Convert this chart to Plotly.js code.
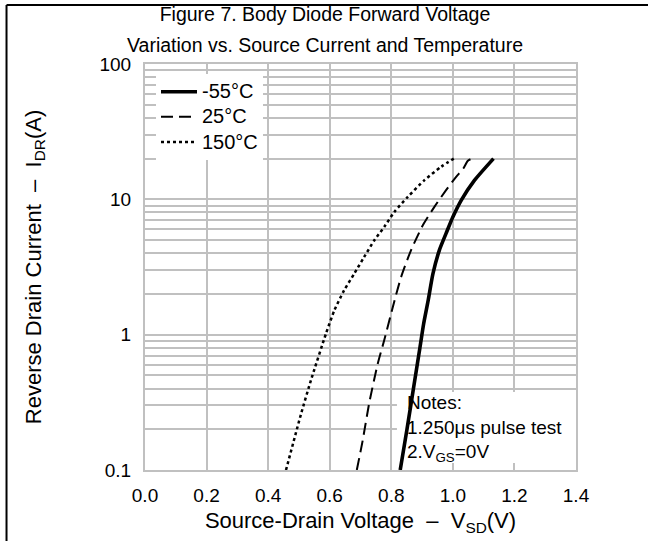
<!DOCTYPE html>
<html><head><meta charset="utf-8">
<script src="https://cdn.plot.ly/plotly-3.0.1.min.js"></script>
<style>html,body{margin:0;padding:0;background:#fff;} #chart{width:648px;height:541px;}</style>
</head><body><div id="chart"></div>
<script>
// ---- data ----
const seriesNames = ['-55°C', '25°C', '150°C'];
const vMinus55 = [0.829, 0.851, 0.872, 0.893, 0.905, 0.920, 0.935, 0.956, 0.978, 1.000, 1.028, 1.070, 1.132];
const iMinus55 = [0.1, 0.2, 0.4, 0.8, 1.2, 1.8, 2.8, 4.2, 5.6, 7.4, 9.9, 13.8, 20];
const v25 = [0.688, 0.707, 0.728, 0.756, 0.777, 0.805, 0.832, 0.864, 0.902, 0.940, 0.978, 1.010, 1.034, 1.048, 1.060, 1.076];
const i25 = [0.1, 0.165, 0.31, 0.61, 0.91, 1.6, 2.67, 4.2, 6.4, 8.8, 11.7, 14.6, 16.9, 19.2, 19.9, 20];
const v150 = [0.458, 0.507, 0.539, 0.588, 0.615, 0.647, 0.680, 0.712, 0.745, 0.777, 0.810, 0.853, 0.907, 0.962, 1.003];
const i150 = [0.1, 0.26, 0.46, 1.02, 1.51, 2.13, 2.83, 3.75, 4.98, 6.25, 8.07, 10.4, 13.8, 17.4, 20];
const xTickVals = [0, 0.2, 0.4, 0.6, 0.8, 1.0, 1.2, 1.4];
const titleLine1 = 'Figure 7. Body Diode Forward Voltage';
const titleLine2 = 'Variation vs. Source Current and Temperature';
const xTitle = 'Source-Drain Voltage \u00a0\u2013\u00a0 V<sub>SD</sub>(V)';
const yTitle = 'Reverse Drain Current \u00a0\u2013\u00a0 I<sub>DR</sub>(A)';
const notesText = 'Notes:<br>1.250\u03bcs pulse test<br>2.V<sub>GS</sub>=0V';
// white panel behind the notes (V range, A range)
const notesBoxV = [0.82, 1.4];
const notesBoxI = [0.1136, 0.374];

const FONT = 'Arial, "Liberation Sans", sans-serif';
const GRID = '#c0c0c0';
const legendName = n => '<span style="font-size:20px">' + n + '</span>';

const traces = [
  {x: [notesBoxV[0], notesBoxV[1], notesBoxV[1], notesBoxV[0], notesBoxV[0]],
   y: [notesBoxI[0], notesBoxI[0], notesBoxI[1], notesBoxI[1], notesBoxI[0]],
   type: 'scatter', mode: 'lines', fill: 'toself', fillcolor: '#ffffff',
   line: {width: 1, color: '#ffffff'},
   showlegend: false, hoverinfo: 'skip'},
  {x: vMinus55, y: iMinus55, name: legendName(seriesNames[0]), type: 'scatter', mode: 'lines',
   line: {color: '#000', width: 3.6, shape: 'spline', smoothing: 0.6}},
  {x: v25, y: i25, name: legendName(seriesNames[1]), type: 'scatter', mode: 'lines',
   line: {color: '#000', width: 2, dash: '12px,6px', shape: 'spline', smoothing: 0.6}},
  {x: v150, y: i150, name: legendName(seriesNames[2]), type: 'scatter', mode: 'lines',
   line: {color: '#000', width: 2.5, dash: '3px,3px', shape: 'spline', smoothing: 0.6}}
];

const layout = {
  width: 648, height: 541,
  margin: {l: 145, r: 72, t: 64, b: 71, pad: 0},
  paper_bgcolor: '#fff', plot_bgcolor: '#fff',
  font: {family: FONT, color: '#000', size: 18},
  showlegend: true,
  title: {text: titleLine1, font: {family: FONT, size: 19.5, color: '#000'},
          x: 325 / 648, xref: 'container', xanchor: 'center',
          y: 1 - 14 / 541, yref: 'container', yanchor: 'middle'},
  xaxis: {range: [0, 1.4], tickvals: xTickVals, tickformat: '.1f',
          showgrid: true, gridcolor: GRID, gridwidth: 2,
          showline: true, linecolor: GRID, linewidth: 2, mirror: true,
          zeroline: false, ticks: '', ticklabelstandoff: 7,
          tickfont: {family: FONT, size: 19, color: '#000'},
          title: {text: xTitle, font: {family: FONT, size: 22, color: '#000'}, standoff: 8}},
  yaxis: {type: 'log', range: [-1, 2], dtick: 1,
          showgrid: true, gridcolor: GRID, gridwidth: 2,
          minor: {dtick: 'D1', showgrid: true, gridcolor: GRID, gridwidth: 2, ticks: ''},
          showline: true, linecolor: GRID, linewidth: 2, mirror: true,
          zeroline: false, ticks: '', ticklabelstandoff: 8,
          tickfont: {family: FONT, size: 19, color: '#000'},
          title: {text: yTitle, font: {family: FONT, size: 22, color: '#000'}, standoff: 52}},
  legend: {x: (156 - 145) / 431, y: 0.975, xanchor: 'left', yanchor: 'top', itemwidth: 36,
           bgcolor: '#fff', borderwidth: 0, tracegroupgap: 0,
           font: {family: FONT, size: 17, color: '#000'}},
  shapes: [
    {type: 'line', xref: 'paper', yref: 'paper', x0: -0.3213, x1: -0.3213, y0: -0.3, y1: 1.1455,
     line: {color: '#000', width: 2}, layer: 'above'},
    {type: 'line', xref: 'paper', yref: 'paper', x0: -0.3213, x1: 1.3, y0: 1.1455, y1: 1.1455,
     line: {color: '#000', width: 2}, layer: 'above'}
  ],
  annotations: [
    {text: titleLine2, xref: 'paper', yref: 'paper', x: (325 - 145) / 431, y: (470 - 45) / 406,
     xanchor: 'center', yanchor: 'middle', showarrow: false,
     font: {family: FONT, size: 19.5, color: '#000'}},
    {text: notesText, xref: 'x', yref: 'paper', x: 0.8446, y: (470 - 428.3) / 406,
     xanchor: 'left', yanchor: 'middle', align: 'left', showarrow: false,
     font: {family: FONT, size: 19, color: '#000'}}
  ]
};

Plotly.newPlot('chart', traces, layout, {displayModeBar: false, staticPlot: true});
</script>
</body></html>
